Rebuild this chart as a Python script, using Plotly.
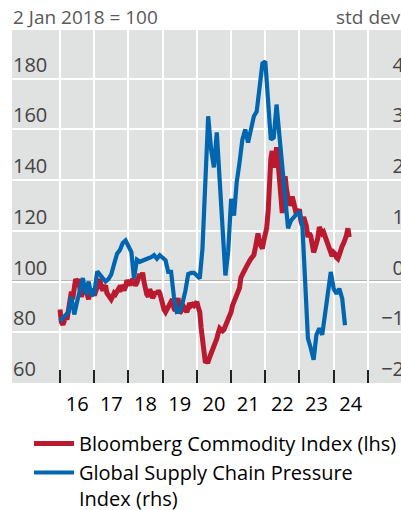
import plotly.graph_objects as go
import pandas as pd

# ---------------- data ----------------
header_left = "2 Jan 2018 = 100"
header_right = "std dev"

# Bloomberg Commodity Index, 2 Jan 2018 = 100, semi-monthly readings from Jan 2016
bcom = [
    89, 84, 83, 84, 86, 85, 89, 92, 96, 93, 97, 101, 100, 101, 97, 94,
    96, 98, 97, 95, 93, 96, 97, 96, 94.5, 96, 98.5, 99, 101, 98, 96.5, 97.5,
    98.5, 95.5, 94.5, 93.5, 93, 94, 95.5, 95, 96.5, 97, 96, 98.5, 97.5, 96.5, 98, 100.5,
    99.5, 98.5, 100, 101, 99.5, 98.5, 99.5, 101.5, 103, 101.5, 103.5, 100, 96.5, 95, 94, 97,
    95.5, 93.5, 94.5, 96, 95, 96.5, 95.5, 93, 91.5, 89, 88, 89, 90, 91.5, 92.5, 93,
    89.5, 88.5, 91, 93.5, 87.5, 88.5, 89.5, 90, 89, 88, 89.5, 91.5, 90.5, 91, 90.5, 91.5,
    92, 90, 88, 82, 76, 70.5, 68, 68.5, 68.5, 70, 71.5, 72.5, 73.5, 75.5, 77.5, 79.5,
    81.5, 81, 80.5, 81, 82.5, 83.5, 85.5, 87, 88, 90.5, 92, 94, 95.5, 96.5, 97.5, 101.5,
    103, 104.5, 105, 106, 107.5, 108, 109, 109.5, 110.5, 113, 117, 119, 115, 113.5, 113, 116,
    118.5, 121, 128, 140, 148.5, 151.5, 145, 147, 153, 148, 140, 134, 127, 136, 141.5, 136.5,
    133, 130, 131.5, 133.5, 131, 128, 126, 127.5, 128.5, 124, 122, 125.5, 123.5, 122, 117.5, 119,
    118, 115, 111.5, 113, 115, 117, 121.5, 120.5, 119, 119.5, 118, 116.5, 115, 114, 112, 110,
    111.5, 111, 109.5, 109, 110.5, 113, 114, 115, 116.5, 118, 121, 117.5,
]

# Global Supply Chain Pressure Index, std dev, monthly from Jan 2016
gscpi = [
    -0.78, -0.72, -0.68, -0.60, -0.30, -0.65, -0.40, -0.15, 0.07, -0.25, 0.00, -0.28,
    -0.22, 0.20, 0.14, 0.08, 0.00, 0.05, 0.14, 0.35, 0.55, 0.62, 0.76, 0.81,
    0.68, 0.58, 0.06, 0.43, 0.39, 0.42, 0.44, 0.46, 0.48, 0.52, 0.45, 0.52,
    0.47, 0.42, 0.19, 0.19, -0.30, -0.60, -0.59, -0.42, -0.18, 0.15, 0.17, 0.17,
    0.12, 0.06, 0.65, 1.95, 3.26, 2.61, 2.25, 2.94, 1.95, 0.84, 0.12, 0.60,
    1.63, 1.30, 1.95, 2.35, 2.80, 3.00, 2.74, 3.00, 3.26, 3.35, 3.90, 4.30,
    4.34, 3.60, 2.80, 2.84, 3.49, 2.87, 2.20, 1.65, 1.05, 1.20, 1.28, 1.33,
    1.36, 1.10, 0.06, -1.12, -1.31, -1.54, -1.05, -0.92, -1.05, -0.59, -0.20, 0.19,
    -0.14, -0.24, -0.14, -0.33, -0.86,
]

year_labels = ["16", "17", "18", "19", "20", "21", "22", "23", "24"]
year_bounds = ["2016", "2017", "2018", "2019", "2020", "2021", "2022", "2023", "2024", "2025"]
left_ticks = [60, 80, 100, 120, 140, 160, 180]
right_ticks = [-2, -1, 0, 1, 2, 3, 4]

RED = "#BA1A2F"
BLUE = "#0066B0"
FONT = "Open Sans"

bcom_dates = pd.date_range("2016-01-01", periods=len(bcom), freq="SMS")
gscpi_dates = pd.date_range("2016-01-01", periods=len(gscpi), freq="MS")
label_pos = [f"20{y}-07-02" for y in year_labels]
bound_pos = [f"{y}-01-01" for y in year_bounds]

fig = go.Figure()
fig.add_trace(go.Scatter(
    x=bcom_dates, y=bcom, mode="lines", name="Bloomberg Commodity Index (lhs)",
    line=dict(color=RED, width=5), yaxis="y",
))
fig.add_trace(go.Scatter(
    x=gscpi_dates, y=gscpi, mode="lines", name="Global Supply Chain Pressure<br>Index (rhs)",
    line=dict(color=BLUE, width=4.2), yaxis="y2",
))

fig.add_shape(type="line", xref="paper", x0=0, x1=1, yref="y", y0=100, y1=100,
              line=dict(color="#333333", width=1.5), layer="below")

fig.update_layout(
    width=401, height=510,
    margin=dict(l=12, r=0, t=30, b=127, autoexpand=False),
    paper_bgcolor="white", plot_bgcolor="#E0E1E1",
    font=dict(family=FONT, size=19, color="black"),
    showlegend=True,
    legend=dict(x=0.0437, y=-0.1162, xanchor="left", yanchor="top",
                font=dict(size=20), valign="top", tracegroupgap=0, itemwidth=40,
                bgcolor="rgba(0,0,0,0)"),
    xaxis=dict(
        type="date", range=["2014-08-06", "2025-12-20"], automargin=False,
        tickvals=label_pos, ticktext=year_labels, ticks="", showgrid=False,
        showline=False, zeroline=False, ticklabelstandoff=7,
        tickfont=dict(size=20),
        minor=dict(tickvals=bound_pos, ticks="inside", ticklen=13, tickwidth=1.5,
                   tickcolor="#222", showgrid=True, gridcolor="white", gridwidth=1.5),
    ),
    yaxis=dict(
        range=[60, 199.2], tickvals=left_ticks, ticklabelposition="inside top",
        showgrid=True, gridcolor="white", gridwidth=1.5, zeroline=False, automargin=False,
        showline=False, ticks="", tickfont=dict(size=20), ticklabelstandoff=-2,
    ),
    yaxis2=dict(
        range=[-2, 4.96], tickvals=right_ticks, overlaying="y", side="right",
        ticklabelposition="inside top", showgrid=False, zeroline=False, automargin=False,
        showline=False, ticks="", tickfont=dict(size=20), ticklabelstandoff=-6,
    ),
    annotations=[
        dict(text=header_left, xref="paper", yref="paper", x=0, y=1, xanchor="left",
             yanchor="bottom", yshift=-2, xshift=-1, showarrow=False,
             font=dict(size=19, color="#595959")),
        dict(text=header_right, xref="paper", yref="paper", x=1, y=1, xanchor="right",
             yanchor="bottom", yshift=-2, xshift=2, showarrow=False,
             font=dict(size=19, color="#595959")),
    ],
)

fig.write_html(
    "out.html",
    config={"displayModeBar": False},
    post_script="document.body.style.margin='0';document.body.style.overflow='hidden';",
)
